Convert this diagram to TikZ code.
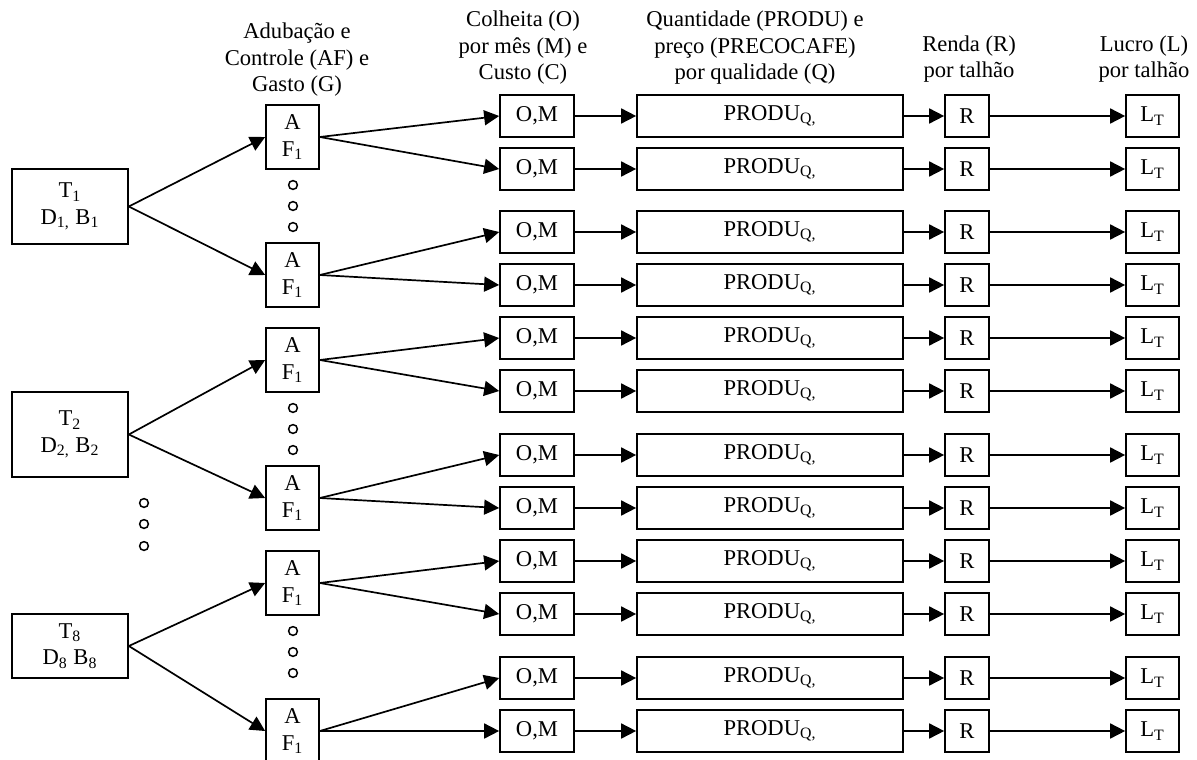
\documentclass[tikz,border=0pt]{standalone}
\usepackage{fontspec}
\setmainfont{Liberation Serif}
\usetikzlibrary{arrows.meta}
\begin{document}
\begin{tikzpicture}[x=0.5pt,y=-0.5pt,
		font=\fontsize{11.3}{13.25}\selectfont,
		caixa/.style={draw,line width=0.85pt,inner sep=0pt,align=center},
		linha/.style={caixa,minimum height=21pt},
		seta/.style={-{Triangle[length=7.5pt,width=7.5pt]},line width=0.85pt},
		bola/.style={line width=0.75pt}]
			\useasboundingbox (0,0) rectangle (1197,759);
			% cabecalhos
			\node[align=center] at (297,60) (hAF) {Adubação e\\Controle (AF) e\\Gasto (G)};
			\node[align=center] at (523,48) (hO) {Colheita (O)\\por mês (M) e\\Custo (C)};
			\node[align=center] at (755,48) (hP) {Quantidade (PRODU) e\\preço (PRECOCAFE)\\por qualidade (Q)};
			\node[align=center] at (969,59) (hR) {Renda (R)\\por talhão};
			\node[align=center] at (1144,59) (hL) {Lucro (L)\\por talhão};
			%
			\node[caixa,minimum width=58pt,minimum height=37.5pt] at (70,206.5) (t1) {T\textsubscript{1}\\D\textsubscript{1,} B\textsubscript{1}};
			\node[caixa,minimum width=58pt,minimum height=42.5pt] at (70,434.5) (t2) {T\textsubscript{2}\\D\textsubscript{2,} B\textsubscript{2}};
			\node[caixa,minimum width=58pt,minimum height=32pt] at (70,646) (t8) {T\textsubscript{8}\\D\textsubscript{8} B\textsubscript{8}};
			%
			\foreach \j/\y in {1/137,2/275,3/360,4/498,5/583,6/731}
				\node[caixa,minimum width=26.5pt,minimum height=32pt] at (292.5,\y) (af\j) {A\\F\textsubscript{1}};
			%
			\foreach \i/\y in {1/116,2/169,3/232,4/285,5/338,6/391,7/455,8/508,9/561,10/614,11/678,12/731}{
				\node[linha,minimum width=37pt] at (537,\y) (om\i) {O,M};
				\node[linha,minimum width=133pt] at (770,\y) (p\i) {PRODU\textsubscript{Q,}};
				\node[linha,minimum width=22pt] at (967,\y) (r\i) {R};
				\node[linha,minimum width=26.5pt] at (1152.5,\y) (l\i) {L\textsubscript{T}};
				\draw[seta] (om\i) -- (p\i);
				\draw[seta] (p\i) -- (r\i);
				\draw[seta] (r\i) -- (l\i);
			}
			%
			\draw[seta] (t1.east) -- (af1.west);
			\draw[seta] (t1.east) -- (af2.west);
			\draw[seta] (t2.east) -- (af3.west);
			\draw[seta] (t2.east) -- (af4.west);
			\draw[seta] (t8.east) -- (af5.west);
			\draw[seta] (t8.east) -- (af6.west);
			\foreach \j/\a/\b in {1/1/2,2/3/4,3/5/6,4/7/8,5/9/10,6/11/12}{
				\draw[seta] (af\j.east) -- (om\a.west);
				\draw[seta] (af\j.east) -- (om\b.west);
			}
			% reticencias
			\foreach \y in {185,206,227,408,429,450,631,652,673}
				\draw[bola] (293,\y) circle[radius=2.2pt];
			\foreach \y in {503,524,546}
				\draw[bola] (144,\y) circle[radius=2.2pt];
		\end{tikzpicture}
\end{document}
